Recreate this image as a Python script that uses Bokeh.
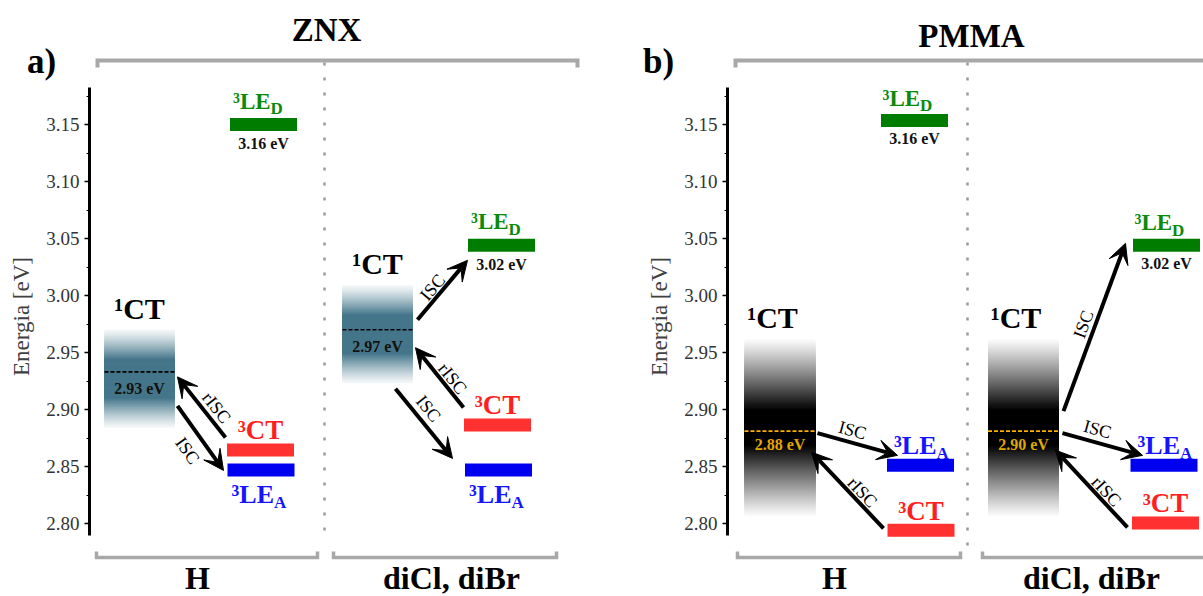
import numpy as np
from bokeh.plotting import figure
from bokeh.models import (Range1d, SingleIntervalTicker, PrintfTickFormatter,
                          Arrow, VeeHead, LinearAxis)
from bokeh.embed import file_html
from bokeh.resources import INLINE
from bokeh.core.properties import value

# ---------------- data ----------------
panel_titles = ["ZNX", "PMMA"]
panel_letters = ["a)", "b)"]
group_labels = ["H", "diCl, diBr"]
axis_label = "Energia [eV]"
y_tick_interval = 0.05

# ZNX panel: groups H, diCl/diBr
znx_s1 = [2.933, 2.970]            # 1CT (dashed line)
znx_s1_top = [2.970, 3.009]        # extent of the 1CT band
znx_s1_bottom = [2.884, 2.923]
znx_s1_labels = ["2.93 eV", "2.97 eV"]
znx_led = [3.150, 3.044]           # 3LE_D level
znx_led_labels = ["3.16 eV", "3.02 eV"]
znx_ct = [2.8645, 2.8865]          # 3CT level
znx_lea = [2.847, 2.847]           # 3LE_A level

# PMMA panel
pmma_s1 = [2.881, 2.881]
pmma_s1_top = [2.963, 2.963]
pmma_s1_bottom = [2.805, 2.805]
pmma_s1_labels = ["2.88 eV", "2.90 eV"]
pmma_led = [3.1535, 3.044]
pmma_led_labels = ["3.16 eV", "3.02 eV"]
pmma_ct = [2.794, 2.8005]
pmma_lea = [2.851, 2.851]

# ---------------- scale / layout ----------------
FIG_W, FIG_H = 1203, 596
PX_PER_EV = 1140.0
TOP_EV = 3.15 + 124 / PX_PER_EV
Y_RANGE = (TOP_EV - FIG_H / PX_PER_EV, TOP_EV)
SERIF = "Liberation Serif"
BASE_FIX = 0.32   # alphabetic-baseline correction (fraction of font size)


def ev_at(px):
    return TOP_EV - px / PX_PER_EV


def shift(v, px_down):
    return v - px_down / PX_PER_EV


def to_px(v):
    return (TOP_EV - v) * PX_PER_EV


LAYOUT = [
    dict(axis_x=89,
         box_x=[139, 377], box_w=70,
         led_x=[263, 501], ct_x=[260, 497], lea_x=[260.5, 498], bar_w=67,
         div_x=324, div_y=(62, 535),
         top_bracket=(97, 577), bottom_brackets=[(96, 317), (333, 556)],
         group_x=[197, 451], title_x=326, title_base=40, letter_x=41, label_x=21,
         dash_color="black", s1_text_color="#111111",
         box_rgb=(68, 118, 138), box_core=0.6, box_gamma=1.2, box_floor=0.06,
         s1_text_dy=22, s1_name_dx=0, s1_name_dy=-12,
         led_name_dx=3, led_name_dy=-16, led_val_dy=24,
         ct_name_dy=-11.5, lea_name_dx=4, lea_name_dy=33,
         arrows=[(0, "CT", "S1", "rISC", -1.5, -12.5, 3, 5, 15, 0.5),
                 (0, "S1", "LEA", "ISC", 3, 34, -4, 0.5, -13, 12.5),
                 (1, "S1", "LED", "ISC", 5, -10, -0.5, 15, -10, -2.5),
                 (1, "CT", "S1", "rISC", -0.5, -17.5, 3, 18, 13, 1),
                 (1, "S1", "LEA", "ISC", -17, 59, -12.5, -11.5, 4.5, -15)]),
    dict(axis_x=727,
         box_x=[779.5, 1023], box_w=71,
         led_x=[914, 1166], ct_x=[920.5, 1165], lea_x=[920, 1163.5], bar_w=67,
         div_x=967, div_y=(62, 553),
         top_bracket=(735, 1215), bottom_brackets=[(737, 960), (982, 1215)],
         group_x=[834, 1091], title_x=971, title_base=46, letter_x=658, label_x=659,
         dash_color="#ffb000", s1_text_color="#e0a800",
         box_rgb=(0, 0, 0), box_core=0.8, box_gamma=1.1, box_floor=0.0,
         s1_text_dy=18, s1_name_dx=-7.5, s1_name_dy=-11,
         led_name_dx=1.5, led_name_dy=-15, led_val_dy=23.5,
         ct_name_dy=-11, lea_name_dx=7, lea_name_dy=-12,
         arrows=[(0, "S1", "LEA", "ISC", 2, 2, 10.5, -10, -5, -14),
                 (0, "CT", "S1", "rISC", -4, -2, -4, 21, 15, 2),
                 (1, "S1", "LED", "ISC", 4.5, -20, -7.5, -2, -11, -3),
                 (1, "S1", "LEA", "ISC", 3.5, 2, 12, -10, -5, -15),
                 (1, "CT", "S1", "rISC", -4.5, 4.5, -3.5, 19, 15, 2.5)]),
]

PANEL_DATA = [
    dict(s1=znx_s1, s1_top=znx_s1_top, s1_bot=znx_s1_bottom, s1_lab=znx_s1_labels,
         led=znx_led, led_lab=znx_led_labels, ct=znx_ct, lea=znx_lea),
    dict(s1=pmma_s1, s1_top=pmma_s1_top, s1_bot=pmma_s1_bottom, s1_lab=pmma_s1_labels,
         led=pmma_led, led_lab=pmma_led_labels, ct=pmma_ct, lea=pmma_lea),
]

GREEN_BAR, GREEN_TXT = "#007d00", "#0a8a0a"
RED_BAR, RED_TXT = "#ff3131", "#ff1f1f"
BLUE_BAR, BLUE_TXT = "#0000f0", "#1414ff"
GRAY = "#a8a8a8"

p = figure(width=FIG_W, height=FIG_H, x_range=Range1d(0, FIG_W),
           y_range=Range1d(*Y_RANGE), output_backend="svg", toolbar_location=None,
           x_axis_location=None, min_border=0, min_border_left=0,
           min_border_right=0, min_border_top=0, min_border_bottom=0)
p.grid.visible = False
p.outline_line_color = None


def style_axis(ax, xloc):
    ax.fixed_location = xloc
    ax.ticker = SingleIntervalTicker(interval=y_tick_interval, num_minor_ticks=2)
    ax.formatter = PrintfTickFormatter(format="%.2f")
    ax.bounds = (ev_at(535), ev_at(87))
    ax.axis_line_width = 3
    ax.axis_line_color = "black"
    ax.major_tick_line_width = 1.5
    ax.major_tick_out = 5
    ax.major_tick_in = 0
    ax.minor_tick_out = 3
    ax.minor_tick_in = 0
    ax.minor_tick_line_width = 1
    ax.major_label_text_font = SERIF
    ax.major_label_text_font_size = "19px"
    ax.major_label_text_color = "#333333"
    ax.major_label_standoff = 5


style_axis(p.yaxis[0], LAYOUT[0]["axis_x"])
ax2 = LinearAxis()
style_axis(ax2, LAYOUT[1]["axis_x"])
p.add_layout(ax2, "left")


def txt(p, x, y, s, size, color="black", bold=True, align="center",
        baseline="alphabetic", angle=0.0):
    if baseline == "alphabetic":
        y = shift(y, -BASE_FIX * size)
    p.text(x=[x], y=[y], text=[s], text_font=value(SERIF),
           text_font_style="bold" if bold else "normal",
           text_font_size=f"{size}px", text_color=color, text_align=align,
           text_baseline=baseline, angle=angle)


def state_name(p, x_left, base_v, main, sub, color, size, sub_size=17, drop=5.5):
    txt(p, x_left, base_v, main, size, color, align="left")
    if sub:
        w = 1.634 * size
        txt(p, x_left + w, shift(base_v, drop), sub, sub_size, color, align="left")


def gradient_box(p, xc, w, top, bot, rgb, core, gamma, floor, n=90):
    mid, half = 0.5 * (top + bot), 0.5 * (top - bot)
    hs = np.linspace(half, half / n, n)
    colors = []
    for h in hs:
        t = h / half
        a = floor + (1 - floor) * min(1.0, max(0.0, (1 - t) / core)) ** gamma
        c = [int(round(255 - a * (255 - ch))) for ch in rgb]
        colors.append("#%02x%02x%02x" % tuple(c))
    p.quad(left=[xc - w / 2] * n, right=[xc + w / 2] * n,
           top=list(mid + hs), bottom=list(mid - hs),
           fill_color=colors, line_color=None)


for k in range(2):
    L, D = LAYOUT[k], PANEL_DATA[k]

    # axis label (rotated), panel letter, title
    txt(p, L["label_x"], ev_at(316), axis_label, 23, "#404040", bold=False,
        baseline="middle", angle=float(np.pi / 2))
    txt(p, L["letter_x"], ev_at(72), panel_letters[k], 35)
    txt(p, L["title_x"], ev_at(L["title_base"]), panel_titles[k], 33)

    # divider and brackets
    p.line([L["div_x"]] * 2, [ev_at(L["div_y"][0]), ev_at(L["div_y"][1])],
           line_color="#9a9a9a", line_width=2.5, line_dash="3 12")
    a, b = L["top_bracket"]
    p.line([a, a, b, b], [ev_at(67), ev_at(60), ev_at(60), ev_at(67)],
           line_color=GRAY, line_width=4, line_join="miter")
    for (a, b) in L["bottom_brackets"]:
        p.line([a, a, b, b], [ev_at(551), ev_at(557), ev_at(557), ev_at(551)],
               line_color=GRAY, line_width=3.5, line_join="miter")
    for g in range(2):
        txt(p, L["group_x"][g], ev_at(588), group_labels[g], 32)

    bw = L["bar_w"]
    for g in range(2):
        # 1CT band
        xc, w = L["box_x"][g], L["box_w"]
        gradient_box(p, xc, w, D["s1_top"][g], D["s1_bot"][g], L["box_rgb"],
                     L["box_core"], L["box_gamma"], L["box_floor"])
        p.line([xc - w / 2, xc + w / 2], [D["s1"][g]] * 2, line_color=L["dash_color"],
               line_width=1.6, line_dash="4 2")
        txt(p, xc, shift(D["s1"][g], L["s1_text_dy"]), D["s1_lab"][g], 16, L["s1_text_color"])
        txt(p, xc + L["s1_name_dx"], shift(D["s1_top"][g], L["s1_name_dy"]), "\u00b9CT", 30)

        # triplet levels
        p.rect(x=[L["led_x"][g], L["ct_x"][g], L["lea_x"][g]],
               y=[D["led"][g], D["ct"][g], D["lea"][g]],
               width=bw, height=13, height_units="screen",
               fill_color=[GREEN_BAR, RED_BAR, BLUE_BAR], line_color=None)
        state_name(p, L["led_x"][g] - bw / 2 + L["led_name_dx"],
                   shift(D["led"][g], L["led_name_dy"]), "\u00b3LE", "D", GREEN_TXT, 23)
        txt(p, L["led_x"][g], shift(D["led"][g], L["led_val_dy"]), D["led_lab"][g], 16, "#111111")
        txt(p, L["ct_x"][g], shift(D["ct"][g], L["ct_name_dy"]), "\u00b3CT", 27, RED_TXT)
        state_name(p, L["lea_x"][g] - bw / 2 + L["lea_name_dx"],
                   shift(D["lea"][g], L["lea_name_dy"]), "\u00b3LE", "A", BLUE_TXT, 26)

    # arrows
    def anchor(g, state):
        if state == "S1":
            return L["box_x"][g] + L["box_w"] / 2, D["s1"][g]
        key = {"LED": ("led_x", "led"), "CT": ("ct_x", "ct"), "LEA": ("lea_x", "lea")}[state]
        return L[key[0]][g] - bw / 2, D[key[1]][g]

    for (g, frm, to, lab, sdx, sdy, edx, edy, ldx, ldy) in L["arrows"]:
        ax0, av0 = anchor(g, frm)
        ax1, av1 = anchor(g, to)
        xs, ys = ax0 + sdx, shift(av0, sdy)
        xe, ye = ax1 + edx, shift(av1, edy)
        p.add_layout(Arrow(end=VeeHead(size=20, fill_color="black", line_color="black",
                                       line_width=1),
                           x_start=xs, y_start=ys, x_end=xe, y_end=ye,
                           line_width=4, line_color="black"))
        pxs, pys, pxe, pye = xs, to_px(ys), xe, to_px(ye)
        ang = np.arctan2(-(pye - pys), pxe - pxs)
        if ang > np.pi / 2:
            ang -= np.pi
        elif ang < -np.pi / 2:
            ang += np.pi
        mx, my = 0.5 * (pxs + pxe) + ldx, 0.5 * (pys + pye) + ldy
        txt(p, mx, ev_at(my), lab, 18, "black", bold=False, baseline="middle", angle=float(ang))

open("out.html", "w").write(file_html(p, INLINE))
